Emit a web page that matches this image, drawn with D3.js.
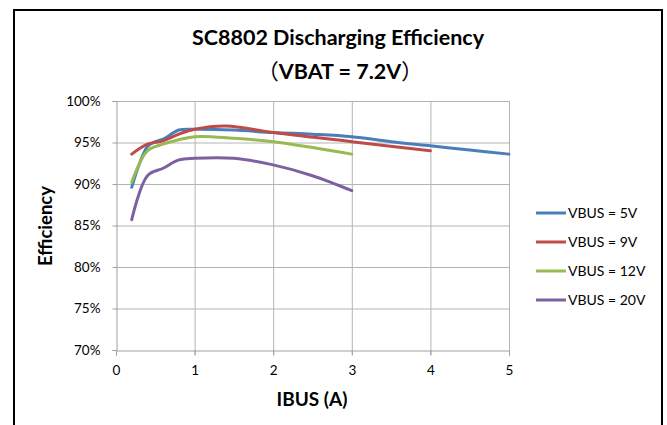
<!DOCTYPE html>
<html><head><meta charset="utf-8">
<script src="https://cdn.jsdelivr.net/npm/d3@7"></script>
<style>body{margin:0;background:#fff}svg{display:block}text{font-family:Lato,"Open Sans",sans-serif}</style>
</head><body>
<svg id="c" width="667" height="425"></svg>
<script>
const seriesNames = ["VBUS = 5V","VBUS = 9V","VBUS = 12V","VBUS = 20V"];
const colors = ["#4A7EBB","#BE4B48","#98B954","#7D60A0"];
const vbus5 = [[0.2,89.6],[0.4,94.5],[0.5,95.1],[0.6,95.4],[0.8,96.5],[1.0,96.6],[1.5,96.5],[2,96.2],[2.5,96.0],[3,95.7],[3.5,95.1],[4,94.6],[4.5,94.1],[5,93.6]];
const vbus9 = [[0.2,93.6],[0.4,94.8],[0.6,95.2],[0.8,96.0],[1.0,96.6],[1.4,97.0],[2,96.2],[3,95.1],[4,94.0]];
const vbus12 = [[0.2,90.2],[0.4,94.0],[0.6,94.8],[1.0,95.7],[1.5,95.5],[2,95.1],[2.5,94.4],[3,93.6]];
const vbus20 = [[0.2,85.7],[0.4,91.0],[0.6,91.9],[0.8,92.9],[1,93.1],[1.5,93.1],[2,92.3],[2.5,91.0],[3,89.2]];
const xTicks = [0,1,2,3,4,5];
const yTicks = [70,75,80,85,90,95,100];
const allSeries = [vbus5, vbus9, vbus12, vbus20];

const svg = d3.select("#c");
svg.append("rect").attr("x",14).attr("y",10).attr("width",648).attr("height",430)
  .attr("fill","none").attr("stroke","#000").attr("stroke-width",2);

const x = d3.scaleLinear().domain([0,5]).range([116,509]);
const y = d3.scaleLinear().domain([70,100]).range([350,101]);

// gridlines
svg.append("g").selectAll("line").data(yTicks.filter(d=>d>70)).join("line")
  .attr("x1",x(0)).attr("x2",x(5)).attr("y1",d=>y(d)+0.5).attr("y2",d=>y(d)+0.5)
  .attr("stroke","#b4b4b4").attr("stroke-width",1);
svg.append("g").selectAll("line").data(xTicks.filter(d=>d>0)).join("line")
  .attr("y1",y(100)).attr("y2",y(70)+5).attr("x1",d=>x(d)+0.5).attr("x2",d=>x(d)+0.5)
  .attr("stroke","#b4b4b4").attr("stroke-width",1);

// axes
const yAxis = d3.axisLeft(y).tickValues(yTicks).tickFormat(d=>d+"%").tickSize(4).tickPadding(12);
const gy = svg.append("g").attr("transform",`translate(${x(0)+0.5},0)`).call(yAxis);
gy.select(".domain").attr("stroke","#a0a0a0");
gy.selectAll(".tick line").attr("stroke","#a0a0a0");
gy.selectAll("text").attr("font-size",13.5).attr("fill","#000");

const xAxis = d3.axisBottom(x).tickValues(xTicks).tickFormat(d3.format("d")).tickSize(5).tickPadding(10);
const gx = svg.append("g").attr("transform",`translate(0,${y(70)+0.5})`).call(xAxis);
gx.select(".domain").attr("stroke","#a0a0a0");
gx.selectAll(".tick line").attr("stroke","#a0a0a0");
gx.selectAll("text").attr("font-size",13.5).attr("fill","#000");

// lines
const line = d3.line().x(d=>x(d[0])).y(d=>y(d[1])).curve(d3.curveCatmullRom.alpha(0.5));
allSeries.forEach((s,i)=>{
  svg.append("path").datum(s).attr("d",line).attr("fill","none")
    .attr("stroke",colors[i]).attr("stroke-width",3).attr("stroke-linejoin","round").attr("stroke-linecap","round");
});

// titles
svg.append("text").attr("x",338).attr("y",45).attr("text-anchor","middle")
  .attr("font-size",21.5).attr("font-weight","bold").text("SC8802 Discharging Efficiency");
const t2 = svg.append("text").attr("x",340).attr("y",79).attr("text-anchor","middle")
  .attr("font-size",21.5).attr("font-weight","bold");
t2.append("tspan").attr("font-family","'Noto Sans CJK SC'").attr("font-weight","normal").text("（");
t2.append("tspan").text("VBAT = 7.2V");
t2.append("tspan").attr("font-family","'Noto Sans CJK SC'").attr("font-weight","normal").text("）");
svg.append("text").attr("x",312).attr("y",406).attr("text-anchor","middle")
  .attr("font-size",19).attr("font-weight","bold").text("IBUS (A)");
svg.append("text").attr("transform","translate(52,226) rotate(-90)").attr("text-anchor","middle")
  .attr("font-size",18.5).attr("font-weight","bold").text("Efficiency");

// legend
const lg = svg.append("g");
seriesNames.forEach((n,i)=>{
  const ly = 213 + i*29;
  lg.append("line").attr("x1",536).attr("x2",566).attr("y1",ly).attr("y2",ly)
    .attr("stroke",colors[i]).attr("stroke-width",3);
  lg.append("text").attr("x",568).attr("y",ly+5).attr("font-size",14).text(n);
});
</script>
</body></html>
